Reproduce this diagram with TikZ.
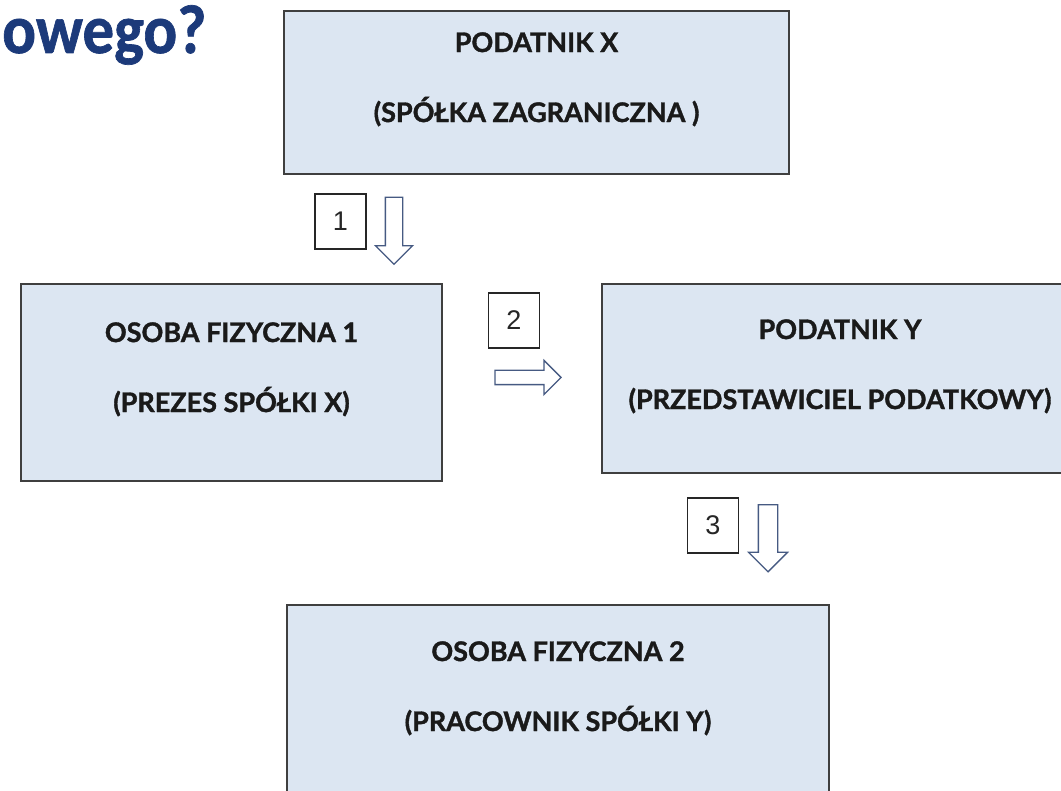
\documentclass[tikz,border=0pt]{standalone}
\usepackage{fontspec}
\newfontfamily\latofont{Lato}[BoldFeatures={FakeBold=1.3}]
\newfontfamily\titlefont{Carlito}[BoldFeatures={FakeBold=1}]
\newfontfamily\numfont{Liberation Sans}
\usetikzlibrary{shapes.arrows}
\definecolor{boxfill}{HTML}{DCE6F2}
\definecolor{boxline}{HTML}{3F3F3F}
\definecolor{arrowline}{HTML}{465A82}
\definecolor{titleblue}{HTML}{1C3A7A}
\definecolor{textdark}{HTML}{1A1A1A}

\begin{document}
\begin{tikzpicture}[x=1pt, y=-1pt]
  \tikzset{bigbox/.style={draw=boxline, fill=boxfill, line width=1.8pt, rectangle, inner sep=0pt}}
  \tikzset{boxtext/.style={align=center, inner sep=0pt, anchor=north, text=textdark, font=\latofont\bfseries\fontsize{27}{70}\selectfont}}
  \tikzset{numbox/.style={draw=black!85, fill=white, line width=1.1pt, minimum width=51pt, minimum height=55pt, inner sep=0pt, text=black!85, font=\numfont\fontsize{27}{27}\selectfont}}
  \tikzset{blockarrow/.style={single arrow, draw=arrowline, fill=white, line width=1.3pt, minimum height=67pt, inner sep=8pt, single arrow head extend=10pt}}
  \useasboundingbox (0,0) rectangle (1061,791);
  \clip (0,0) rectangle (1061,791);
%  \draw [gray, very thin, step=50] (0,0) grid (1061,791);

  \node[name = title, anchor=base west, inner sep=0pt, text=titleblue, font=\titlefont\bfseries\fontsize{63}{63}\selectfont] at (2,53) {\scalebox{1}[1.1]{owego?}};

  \node[name = podX, bigbox, minimum width=505pt, minimum height=163pt] at (536.5,92.5) {};
  \node[name = podXtext, boxtext] at ([yshift=-22pt]podX.north) {PODATNIK X\\(SPÓŁKA ZAGRANICZNA )};

  \node[name = osoba1, bigbox, minimum width=421pt, minimum height=197pt] at (231.5,382.5) {};
  \node[name = osoba1text, boxtext] at ([yshift=-39pt]osoba1.north) {OSOBA FIZYCZNA 1\\(PREZES SPÓŁKI X)};

  \node[name = podY, bigbox, minimum width=476pt, minimum height=189pt] at (840,378.5) {};
  \node[name = podYtext, boxtext] at ([yshift=-36pt]podY.north) {PODATNIK Y\\(PRZEDSTAWICIEL PODATKOWY)};

  \node[name = osoba2, bigbox, minimum width=542pt, minimum height=225pt] at (558,717.5) {};
  \node[name = osoba2text, boxtext] at ([yshift=-37pt]osoba2.north) {OSOBA FIZYCZNA 2\\(PRACOWNIK SPÓŁKI Y)};

  % step numbers
  \node[name = num1, numbox] at (340.5,221.5) {1};
  \node[name = num2, numbox] at (514,320.5) {2};
  \node[name = num3, numbox] at (713,525.5) {3};

  % block arrows
  \node[name = arr1, blockarrow, rotate=-90] at (394,226.5) {};
  \node[name = arr2, blockarrow, inner sep=6.5pt, minimum height=66pt] at (524.5,377.5) {};
  \node[name = arr3, blockarrow, rotate=-90, inner sep=9pt] at (768,533.5) {};
\end{tikzpicture}
\end{document}
